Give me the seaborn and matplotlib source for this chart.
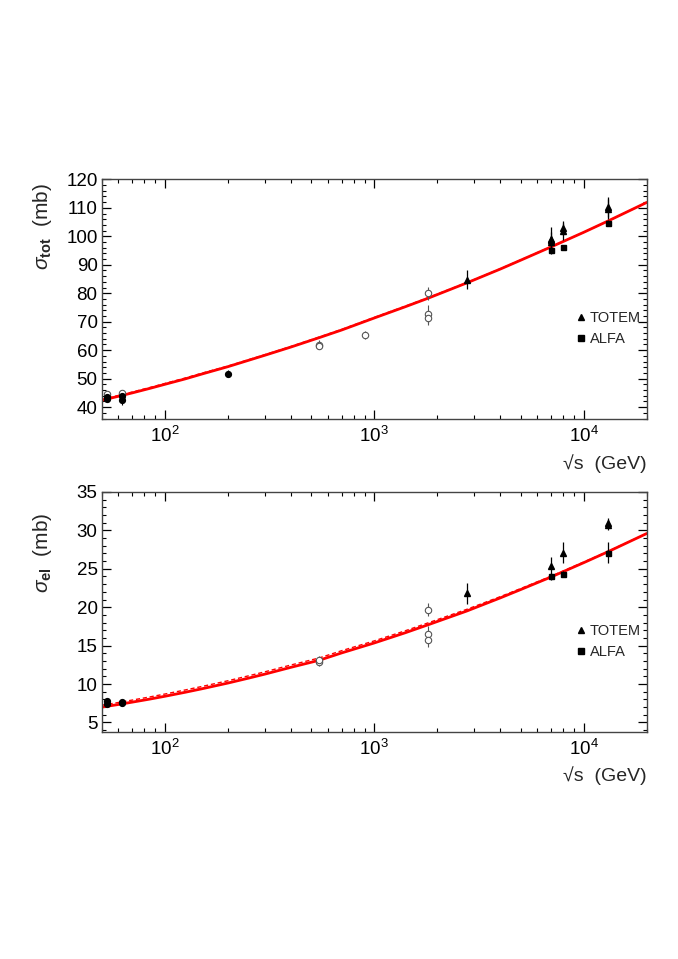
import numpy as np
import pandas as pd
import seaborn as sns
import matplotlib
matplotlib.use("Agg")
import matplotlib.pyplot as plt
from matplotlib.lines import Line2D
from matplotlib.ticker import MultipleLocator, LogLocator, NullFormatter

# ---- sigma_tot panel data ----
tot_open_E = [52.8, 62.5, 546, 546, 900, 1800, 1800, 1800]
tot_open_s = [44.7, 45.0, 61.9, 61.3, 65.3, 80.0, 72.6, 71.4]
tot_open_e = [0.6, 0.7, 1.5, 1.0, 1.3, 2.3, 3.1, 2.4]

tot_fill_E = [52.8, 52.8, 62.5, 62.5, 200]
tot_fill_s = [42.7, 43.4, 43.8, 42.6, 51.8]
tot_fill_e = [0.5, 0.5, 0.8, 2.0, 1.3]

tot_totem_E = [2760, 7000, 7000, 7000, 8000, 8000, 13000, 13000]
tot_totem_s = [84.7, 98.8, 98.0, 99.1, 101.7, 102.9, 110.3, 109.6]
tot_totem_e = [3.3, 2.8, 2.2, 4.3, 2.9, 2.3, 3.4, 3.5]

tot_alfa_E = [7000, 8000, 13000]
tot_alfa_s = [95.35, 96.07, 104.7]
tot_alfa_e = [1.4, 0.9, 1.1]

# ---- sigma_el panel data ----
el_open_E = [546, 546, 1800, 1800, 1800]
el_open_s = [12.9, 13.1, 19.7, 16.5, 15.8]
el_open_e = [0.5, 0.6, 0.85, 1.0, 1.0]

el_fill_E = [52.8, 52.8, 62.5, 62.5]
el_fill_s = [7.4, 7.8, 7.5, 7.7]
el_fill_e = [0.3, 0.3, 0.3, 0.3]

el_totem_E = [2760, 7000, 8000, 13000, 13000]
el_totem_s = [21.8, 25.4, 27.1, 31.0, 30.7]
el_totem_e = [1.4, 1.1, 1.4, 0.6, 0.6]

el_alfa_E = [7000, 8000, 13000]
el_alfa_s = [24.0, 24.3, 27.1]
el_alfa_e = [0.5, 0.4, 1.4]

# ---- model curves (values read at these energies) ----
curve_E = [50, 60, 70, 85, 100, 125, 150, 200, 250, 300, 400, 546, 700, 1000,
           1400, 1800, 2760, 4000, 5000, 7000, 10000, 13000, 20000]
tot_solid = [42.4, 43.8, 45.0, 46.6, 48.0, 49.9, 51.6, 54.2, 56.4, 58.2, 61.1, 64.4, 67.1, 71.3,
             75.2, 78.2, 83.6, 88.5, 91.6, 96.3, 101.4, 105.3, 111.9]
tot_dash = [42.7, 44.1, 45.3, 46.9, 48.3, 50.2, 51.9, 54.4, 56.6, 58.4, 61.3, 64.6, 67.3, 71.5,
            75.4, 78.4, 83.7, 88.6, 91.7, 96.4, 101.4, 105.3, 111.9]
el_solid = [7.0, 7.34, 7.65, 8.05, 8.41, 8.93, 9.38, 10.13, 10.76, 11.29, 12.18, 13.1, 14.06, 15.35,
            16.66, 17.7, 19.5, 21.22, 22.3, 23.95, 25.8, 27.2, 29.6]
el_dash = [7.25, 7.6, 7.92, 8.33, 8.7, 9.23, 9.68, 10.43, 11.06, 11.59, 12.48, 13.4, 14.35, 15.62,
           16.92, 17.95, 19.72, 21.38, 22.43, 24.05, 25.88, 27.25, 29.6]

sns.set_style("ticks")
plt.rcParams['font.family'] = ['Liberation Sans', 'DejaVu Sans']
plt.rcParams['mathtext.fontset'] = 'custom'
plt.rcParams['mathtext.rm'] = 'Liberation Sans'
plt.rcParams['mathtext.it'] = 'Liberation Sans:italic'
plt.rcParams['mathtext.bf'] = 'Liberation Sans:bold'

fig = plt.figure(figsize=(6.78, 9.59), dpi=100)
ax1 = fig.add_axes([0.150, 0.563, 0.804, 0.250])
ax2 = fig.add_axes([0.150, 0.237, 0.804, 0.250])


def draw_panel(ax, solid, dash, opn, fil, totem, alfa, ylim, major, minor, ylab, ylab_y):
    df = pd.DataFrame({"E": curve_E, "solid": solid, "dash": dash})
    sns.lineplot(data=df, x="E", y="solid", ax=ax, color="red", lw=2.0,
                 estimator=None, zorder=2)
    sns.lineplot(data=df, x="E", y="dash", ax=ax, color="red", lw=1.0,
                 linestyle=(0, (3, 2)), estimator=None, zorder=2)
    ax.errorbar(opn[0], opn[1], yerr=opn[2], fmt='o', ms=4.6, mfc='white',
                mec='#555555', mew=0.8, ecolor='#555555', elinewidth=0.8,
                capsize=0, zorder=3)
    ax.errorbar(fil[0], fil[1], yerr=fil[2], fmt='o', ms=4.2, color='black',
                elinewidth=0.8, capsize=0, zorder=4)
    ax.errorbar(totem[0], totem[1], yerr=totem[2], fmt='^', ms=4.8, color='black',
                elinewidth=0.9, capsize=0, zorder=4)
    ax.errorbar(alfa[0], alfa[1], yerr=alfa[2], fmt='s', ms=3.6, color='black',
                elinewidth=0.9, capsize=0, zorder=4)

    ax.set_xscale('log')
    ax.set_xlim(50, 20000)
    ax.set_ylim(*ylim)
    ax.yaxis.set_major_locator(MultipleLocator(major))
    ax.yaxis.set_minor_locator(MultipleLocator(minor))
    ax.xaxis.set_major_locator(LogLocator(base=10, numticks=10))
    ax.xaxis.set_minor_locator(LogLocator(base=10, subs=np.arange(2, 10), numticks=20))
    ax.xaxis.set_minor_formatter(NullFormatter())
    ax.tick_params(which='both', direction='in', top=True, right=True,
                   labelsize=13.5, colors='black')
    ax.tick_params(which='major', length=6.5, width=0.9)
    ax.tick_params(which='minor', length=3.2, width=0.8)
    ax.tick_params(axis='x', which='major', pad=5)
    ax.tick_params(axis='y', which='major', pad=3)
    for sp in ax.spines.values():
        sp.set_visible(True)
        sp.set_linewidth(1.0)
        sp.set_color('#444444')

    ax.set_xlabel('√s  (GeV)', fontsize=14, loc='right')
    ax.xaxis.set_label_coords(1.0, -0.145)
    ax.set_ylabel(ylab, fontsize=15, loc='top')
    ax.yaxis.set_label_coords(-0.088, ylab_y)

    handles = [Line2D([], [], marker='^', color='black', ls='none', ms=4.5),
               Line2D([], [], marker='s', color='black', ls='none', ms=4)]
    ax.legend(handles, ['TOTEM', 'ALFA'], loc='upper left',
              bbox_to_anchor=(0.87, 0.45), frameon=False, fontsize=10.5,
              handlelength=0.7, handletextpad=0.25, labelspacing=0.5,
              borderaxespad=0, borderpad=0)


draw_panel(ax1, tot_solid, tot_dash,
           (tot_open_E, tot_open_s, tot_open_e),
           (tot_fill_E, tot_fill_s, tot_fill_e),
           (tot_totem_E, tot_totem_s, tot_totem_e),
           (tot_alfa_E, tot_alfa_s, tot_alfa_e),
           (35.8, 120), 10, 2, r'$\sigma_{\mathbf{tot}}$  (mb)', 0.985)

draw_panel(ax2, el_solid, el_dash,
           (el_open_E, el_open_s, el_open_e),
           (el_fill_E, el_fill_s, el_fill_e),
           (el_totem_E, el_totem_s, el_totem_e),
           (el_alfa_E, el_alfa_s, el_alfa_e),
           (3.8, 35), 5, 1, r'$\sigma_{\mathbf{el}}$  (mb)', 0.915)

fig.savefig('out.png', dpi=100)
